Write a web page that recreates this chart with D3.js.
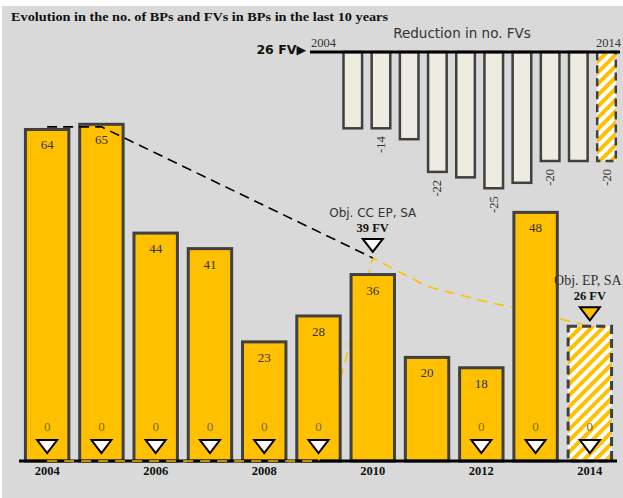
<!DOCTYPE html>
<html><head><meta charset="utf-8">
<script src="https://cdn.jsdelivr.net/npm/d3@7"></script>
<style>body{margin:0;background:#fff}svg{display:block}</style>
</head><body><svg id="c" width="623" height="498"></svg>
<script>
// ---- data ----
const years = [2004,2005,2006,2007,2008,2009,2010,2011,2012,2013,2014];
const bpValues = [64,65,44,41,23,28,36,20,18,48,26];
const fvValues = [0,0,0,0,0,0,null,null,0,0,0];
const tickYears = [2004,2006,2008,2010,2012,2014];
const blackLineYears = [2004,2005,2010];
const blackLineValues = [64.5,64.5,39.2];
const yellowLineValues = [0,0,0,0,0,0,39.2,33.7,31,28.6,26];
const objYears = [2010,2014];
const objTitles = ["Obj. CC EP, SA","Obj. EP, SA"];
const objLabels = ["39 FV","26 FV"];
const objValues = [39.2,26];
const insetYears = [2005,2006,2007,2008,2009,2010,2011,2012,2013,2014];
const insetValues = [-14,-14,-16,-22,-23,-25,-24,-20,-20,-20];
const insetLabels = ["","-14","","-22","","-25","","-20","","-20"];
const insetEndLabels = ["2004","2014"];

const YELLOW = "#FFC000", DARK = "#404040";
const SERIF = "'Liberation Serif','Times New Roman',serif";
const SANS = "'DejaVu Sans',Verdana,sans-serif";

const svg = d3.select("#c");
svg.append("rect").attr("x",2).attr("y",6).attr("width",621).attr("height",492).attr("fill","#D9D9D9");

const defs = svg.append("defs");
const pat = defs.append("pattern").attr("id","hatch").attr("patternUnits","userSpaceOnUse")
  .attr("width",8).attr("height",8).attr("patternTransform","rotate(45)");
pat.append("rect").attr("width",8).attr("height",8).attr("fill","#fff");
pat.append("rect").attr("width",4).attr("height",8).attr("fill",YELLOW);
defs.append("clipPath").attr("id","baseClip").append("rect")
  .attr("x",0).attr("y",457).attr("width",623).attr("height",8);

svg.append("text").attr("x",11).attr("y",21).attr("font-family",SERIF).attr("font-weight","bold")
  .attr("font-size",13.5).attr("textLength",377).attr("lengthAdjust","spacingAndGlyphs").attr("fill","#111")
  .text("Evolution in the no. of BPs and FVs in BPs in the last 10 years");

// ---- main chart ----
const x = d3.scaleBand().domain(years).range([20,617]).paddingInner(0.2).paddingOuter(0.1);
const y = d3.scaleLinear().domain([0,70]).range([461,461-5.18*70]);
const cx = d => x(d) + x.bandwidth()/2;

// yellow objective path (behind bars)
const yLine = d3.line().x((d,i)=>cx(years[i])).y(d=>y(d));
svg.append("path").attr("d",yLine(yellowLineValues)).attr("fill","none")
  .attr("stroke",YELLOW).attr("stroke-width",1.6).attr("stroke-dasharray","10,7");

// bars
const last = years.length-1;
svg.selectAll("rect.bar").data(years).join("rect").attr("class","bar")
  .attr("x",d=>x(d)).attr("width",x.bandwidth())
  .attr("y",(d,i)=>y(bpValues[i])).attr("height",(d,i)=>y(0)-y(bpValues[i]))
  .attr("fill",(d,i)=>i===last?"url(#hatch)":YELLOW)
  .attr("stroke",DARK).attr("stroke-width",3)
  .attr("stroke-dasharray",(d,i)=>i===last?"9,5":null);

// baseline on top of bars
svg.append("line").attr("x1",19).attr("x2",617).attr("y1",y(0)).attr("y2",y(0))
  .attr("stroke","#000").attr("stroke-width",3);
// yellow path portion lying on the baseline
svg.append("path").attr("d",yLine(yellowLineValues)).attr("fill","none").attr("clip-path","url(#baseClip)")
  .attr("stroke",YELLOW).attr("stroke-width",1.6).attr("stroke-dasharray","10,7");

// value labels
svg.selectAll("text.val").data(years).join("text").attr("class","val")
  .attr("x",d=>cx(d)).attr("y",(d,i)=>y(bpValues[i])+20).attr("text-anchor","middle")
  .attr("font-family",SERIF).attr("font-size",13).attr("fill","#333")
  .text((d,i)=>i===last?"":bpValues[i]);

// FV zero labels and triangles
const fvIdx = years.map((d,i)=>i).filter(i=>fvValues[i]!==null);
svg.selectAll("text.fv").data(fvIdx).join("text").attr("class","fv")
  .attr("x",i=>cx(years[i])).attr("y",i=>y(fvValues[i])-30).attr("text-anchor","middle")
  .attr("font-family",SERIF).attr("font-size",13).attr("fill","#7a6a2a").text(i=>fvValues[i]);
const tri = (cxp, tip, w, h) => `M${cxp-w/2},${tip-h}L${cxp+w/2},${tip-h}L${cxp},${tip}Z`;
svg.selectAll("path.fvtri").data(fvIdx).join("path").attr("class","fvtri")
  .attr("d",i=>tri(cx(years[i]), y(fvValues[i])-8, 20, 13))
  .attr("fill","#fff").attr("stroke","#000").attr("stroke-width",2).attr("stroke-linejoin","miter");

// black dashed trend
const bLine = d3.line().x((d,i)=>cx(blackLineYears[i])).y(d=>y(d));
svg.append("path").attr("d",bLine(blackLineValues)).attr("fill","none")
  .attr("stroke","#000").attr("stroke-width",1.6).attr("stroke-dasharray","10,6");

// objectives
objYears.forEach((yr,k)=>{
  const px = cx(yr), py = y(objValues[k]);
  svg.append("path").attr("d",tri(px, py-6, 20, 13))
    .attr("fill",k===0?"#fff":YELLOW).attr("stroke","#000").attr("stroke-width",2);
  svg.append("text").attr("x",px).attr("y",py-26).attr("text-anchor","middle")
    .attr("font-family",SERIF).attr("font-weight","bold").attr("font-size",12.5).attr("fill","#111")
    .text(objLabels[k]);
  svg.append("text").attr("x",k===0?px:px-2).attr("y",py-41).attr("text-anchor","middle")
    .attr("font-family",k===0?SANS:SERIF).attr("font-size",k===0?12:14).attr("fill","#333")
    .text(objTitles[k]);
});

// x tick labels
svg.selectAll("text.tick").data(tickYears).join("text").attr("class","tick")
  .attr("x",d=>cx(d)).attr("y",475).attr("text-anchor","middle")
  .attr("font-family",SERIF).attr("font-weight","bold").attr("font-size",12.5).attr("fill","#111").text(d=>d);

// ---- inset chart ----
const ix = d3.scaleBand().domain(insetYears).range([338.7,620.6]).paddingInner(0.34).paddingOuter(0.17);
const iy = d3.scaleLinear().domain([0,-30]).range([52,52+5.45*30]);
const ilast = insetYears.length-1;
svg.selectAll("rect.ibar").data(insetYears).join("rect").attr("class","ibar")
  .attr("x",d=>ix(d)).attr("width",ix.bandwidth())
  .attr("y",iy(0)).attr("height",(d,i)=>iy(insetValues[i])-iy(0))
  .attr("fill",(d,i)=>i===ilast?"url(#hatch)":"#EEEBE0")
  .attr("stroke",DARK).attr("stroke-width",2.5)
  .attr("stroke-dasharray",(d,i)=>i===ilast?"8,5":null);
svg.append("line").attr("x1",310).attr("x2",620).attr("y1",iy(0)).attr("y2",iy(0))
  .attr("stroke","#000").attr("stroke-width",3);
svg.selectAll("text.ilab").data(insetYears).join("text").attr("class","ilab")
  .attr("transform",(d,i)=>`translate(${ix(d)+ix.bandwidth()/2+4},${iy(insetValues[i])+8}) rotate(-90)`)
  .attr("text-anchor","end").attr("font-family",SERIF).attr("font-size",12.5).attr("fill","#333")
  .text((d,i)=>insetLabels[i]);
svg.append("text").attr("x",311).attr("y",47).attr("font-family",SERIF).attr("font-size",12.5).attr("fill","#333").text(insetEndLabels[0]);
svg.append("text").attr("x",621).attr("y",47).attr("text-anchor","end").attr("font-family",SERIF).attr("font-size",12.5).attr("fill","#333").text(insetEndLabels[1]);
svg.append("text").attr("x",462).attr("y",38).attr("text-anchor","middle").attr("font-family",SANS)
  .attr("font-size",13.5).attr("fill","#333").text("Reduction in no. FVs");
svg.append("text").attr("x",306).attr("y",54).attr("text-anchor","end").attr("font-family",SANS)
  .attr("font-weight","bold").attr("font-size",12.5).attr("fill","#111").text("26 FV\u25B6");
</script></body></html>
